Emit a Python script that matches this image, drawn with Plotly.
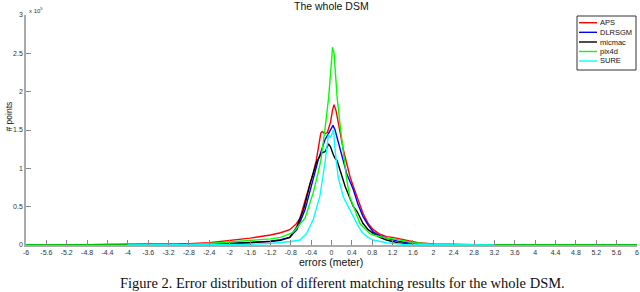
import plotly.graph_objects as go

# ---- data (values in units of 1e5 points) ----
aps_x = [-6, -4, -3, -2.4, -2, -1.6, -1.2, -1.0, -0.82, -0.7, -0.62, -0.49, -0.36, -0.3, -0.26, -0.21,
         -0.18, -0.13, -0.08, -0.02, 0.02, 0.05, 0.09, 0.13, 0.17, 0.23, 0.3, 0.36, 0.43, 0.52, 0.62,
         0.72, 0.82, 0.95, 1.08, 1.2, 1.34, 1.5, 1.7, 2.0, 2.4, 2.8, 3.2, 4, 5, 6]
aps_y = [0, 0.002, 0.01, 0.03, 0.06, 0.09, 0.13, 0.16, 0.2, 0.27, 0.35, 0.63, 0.94, 1.1, 1.24, 1.46,
         1.48, 1.45, 1.47, 1.6, 1.76, 1.83, 1.75, 1.6, 1.46, 1.25, 1.06, 0.9, 0.76, 0.58, 0.41,
         0.28, 0.2, 0.14, 0.11, 0.1, 0.08, 0.05, 0.03, 0.015, 0.008, 0.004, 0.002, 0.001, 0.001, 0]

dlr_x = [-6, -3, -2.4, -2, -1.6, -1.2, -1.0, -0.82, -0.68, -0.52, -0.39, -0.26, -0.13, -0.06, 0, 0.03,
         0.07, 0.12, 0.17, 0.23, 0.3, 0.43, 0.52, 0.62, 0.72, 0.82, 0.95, 1.08, 1.3, 1.6, 2, 3, 6]
dlr_y = [0, 0.003, 0.01, 0.02, 0.03, 0.05, 0.07, 0.1, 0.2, 0.46, 0.8, 1.11, 1.37, 1.45, 1.52, 1.56,
         1.5, 1.38, 1.25, 1.09, 0.93, 0.72, 0.53, 0.37, 0.26, 0.17, 0.12, 0.09, 0.05, 0.02, 0.008, 0.002, 0]

mic_x = [-6, -3, -2.4, -2, -1.6, -1.2, -1.0, -0.82, -0.68, -0.55, -0.42, -0.29, -0.19, -0.12, -0.06,
         -0.02, 0.04, 0.07, 0.11, 0.17, 0.27, 0.43, 0.5, 0.62, 0.72, 0.82, 0.95, 1.08, 1.3, 1.6, 2, 3, 6]
mic_y = [0, 0.003, 0.01, 0.02, 0.03, 0.045, 0.06, 0.1, 0.24, 0.46, 0.8, 1.09, 1.2, 1.22, 1.32,
         1.28, 1.17, 1.13, 1.1, 0.98, 0.76, 0.5, 0.44, 0.28, 0.2, 0.15, 0.1, 0.065, 0.03, 0.012, 0.005, 0.001, 0]

pix_x = [-6, -4, -3, -2.4, -2, -1.6, -1.2, -1.0, -0.76, -0.52, -0.36, -0.26, -0.21, -0.13, -0.055, 0,
         0.02, 0.05, 0.11, 0.18, 0.25, 0.3, 0.36, 0.43, 0.52, 0.56, 0.75, 0.82, 1.08, 1.3, 1.6, 2, 3, 4, 5, 6]
pix_y = [0, 0.001, 0.005, 0.02, 0.04, 0.06, 0.08, 0.1, 0.16, 0.35, 0.68, 0.95, 1.1, 1.5, 1.93, 2.4,
         2.58, 2.5, 1.93, 1.5, 1.07, 0.85, 0.63, 0.5, 0.33, 0.28, 0.15, 0.13, 0.09, 0.07, 0.03, 0.01, 0.002, 0.001, 0.001, 0]

sure_x = [-4, -3, -2.4, -2, -1.6, -1.2, -1.0, -0.8, -0.62, -0.49, -0.36, -0.23, -0.13, -0.08, -0.06,
          -0.02, 0.01, 0.04, 0.07, 0.13, 0.23, 0.36, 0.46, 0.53, 0.62, 0.72, 0.82, 1.08, 1.4, 2, 3.2]
sure_y = [0, 0.001, 0.003, 0.005, 0.01, 0.02, 0.03, 0.045, 0.065, 0.15, 0.33, 0.63, 1.06, 1.4, 1.44,
          1.4, 1.44, 1.5, 1.24, 0.89, 0.63, 0.46, 0.33, 0.24, 0.15, 0.1, 0.065, 0.03, 0.01, 0.003, 0]

series_names = ["APS", "DLRSGM", "micmac", "pix4d", "SURE"]
series_colors = ["#ff0000", "#0000ff", "#000000", "#00ff00", "#00ffff"]
series_data = [(aps_x, aps_y), (dlr_x, dlr_y), (mic_x, mic_y), (pix_x, pix_y), (sure_x, sure_y)]

x_ticks = [-6, -5.6, -5.2, -4.8, -4.4, -4, -3.6, -3.2, -2.8, -2.4, -2, -1.6, -1.2, -0.8, -0.4, 0,
           0.4, 0.8, 1.2, 1.6, 2, 2.4, 2.8, 3.2, 3.6, 4, 4.4, 4.8, 5.2, 5.6, 6]
y_ticks = [0, 0.5, 1, 1.5, 2, 2.5, 3]

FONT = "Liberation Sans, Arial, sans-serif"
W, H = 640, 292
ML, MR, MT, MB = 26, 3, 15, 47
PW, PH = W - ML - MR, H - MT - MB


def px_x(p):  # pixel -> paper x
    return (p - ML) / PW


def px_y(p):  # pixel -> paper y
    return (H - MB - p) / PH


fig = go.Figure()
for name, color, (xs, ys) in zip(series_names, series_colors, series_data):
    fig.add_trace(go.Scatter(x=xs, y=ys, mode="lines", name=name,
                             line=dict(color=color, width=1.4), showlegend=False))

fig.update_layout(
    width=W, height=H,
    margin=dict(l=ML, r=MR, t=MT, b=MB),
    paper_bgcolor="white", plot_bgcolor="white",
    font=dict(family=FONT, size=8, color="#222"),
    showlegend=False,
    xaxis=dict(range=[-6, 6], tickmode="array", tickvals=x_ticks,
               ticktext=[("%g" % v) for v in x_ticks], automargin=False,
               ticks="inside", ticklen=5, tickcolor="#888", tickwidth=1,
               showline=True, linecolor="#aaa", linewidth=1.5, showgrid=False,
               zeroline=False, tickfont=dict(size=7, color="#333")),
    yaxis=dict(range=[0, 3], tickmode="array", tickvals=y_ticks,
               ticktext=[("%g" % v) for v in y_ticks], automargin=False,
               ticks="inside", ticklen=5, tickcolor="#888", tickwidth=1,
               showline=True, linecolor="#aaa", linewidth=1.5, showgrid=False,
               zeroline=False, tickfont=dict(size=7, color="#333")),
)

ann_font = dict(family=FONT, color="#111")
# title
fig.add_annotation(text="The whole DSM", xref="paper", yref="paper", x=px_x(331.5), y=px_y(6),
                   xanchor="center", yanchor="middle", showarrow=False,
                   font=dict(ann_font, size=10.5))
# axis titles
fig.add_annotation(text="errors (meter)", xref="paper", yref="paper", x=px_x(331), y=px_y(262),
                   xanchor="center", yanchor="middle", showarrow=False,
                   font=dict(ann_font, size=10.5))
fig.add_annotation(text="# points", xref="paper", yref="paper", x=px_x(8.5), y=px_y(117),
                   xanchor="center", yanchor="middle", showarrow=False, textangle=-90,
                   font=dict(ann_font, size=8.5))
# exponent
fig.add_annotation(text="x 10<sup>5</sup>", xref="paper", yref="paper", x=px_x(27), y=px_y(10),
                   xanchor="left", yanchor="middle", showarrow=False,
                   font=dict(ann_font, size=6, color="#333"))
# caption
fig.add_annotation(text="Figure 2. Error distribution of different matching results for the whole DSM.",
                   xref="paper", yref="paper", x=px_x(342.5), y=px_y(283), xanchor="center",
                   yanchor="middle", showarrow=False,
                   font=dict(family="Liberation Serif, Times New Roman, serif", size=14.5, color="#111"))

# legend (drawn manually to match compact MATLAB legend)
fig.add_shape(type="rect", xref="paper", yref="paper",
              x0=px_x(577), x1=px_x(636), y0=px_y(16), y1=px_y(70),
              line=dict(color="#333", width=1), fillcolor="white", layer="above")
leg_y = [22.7, 32.3, 42, 51.5, 61]
for name, color, yy in zip(series_names, series_colors, leg_y):
    fig.add_shape(type="line", xref="paper", yref="paper",
                  x0=px_x(579), x1=px_x(597), y0=px_y(yy), y1=px_y(yy),
                  line=dict(color=color, width=1.4), layer="above")
    fig.add_annotation(text=name, xref="paper", yref="paper", x=px_x(598), y=px_y(yy),
                       xanchor="left", yanchor="middle", showarrow=False,
                       font=dict(ann_font, size=7.5))

fig.write_html("out.html", config={"displayModeBar": False},
               post_script="document.body.style.margin='0';document.body.style.overflow='hidden';")
